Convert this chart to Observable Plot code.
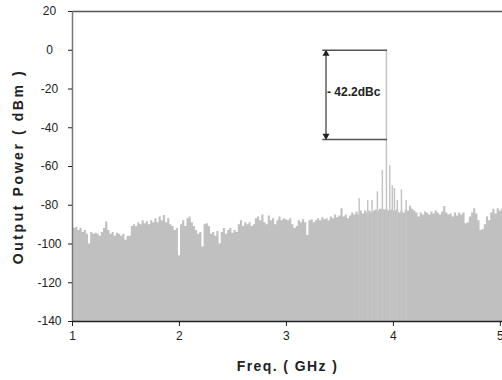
<!DOCTYPE html>
<html><head><meta charset="utf-8">
<script src="https://cdn.jsdelivr.net/npm/d3@7"></script>
<script src="https://cdn.jsdelivr.net/npm/@observablehq/plot@0.6"></script>
<style>
body{margin:0;background:#fff}
#chart svg{display:block}
</style></head><body><div id="chart"></div>
<script>
// Spectrum noise floor: 1.00 .. 5.02 GHz in 0.02 GHz bins (dBm)
const fStart = 1, fStep = 0.02;
const noiseDbm = [
  -91, -92, -91.5, -93, -92,
  -94, -93, -95, -100, -94,
  -95, -94.5, -95, -96, -94,
  -92, -88.7, -93, -95, -94,
  -96, -94.5, -95, -96, -95,
  -98, -96, -96, -91, -90,
  -91, -89, -90, -88, -89.5,
  -88.5, -90, -88, -89, -87,
  -89, -86, -88, -85.3, -89,
  -87, -90, -91, -93, -92,
  -106, -90, -88, -91, -87,
  -86, -89, -91, -93, -95,
  -94, -101.6, -90, -89.5, -91,
  -95, -94, -96, -93.5, -100,
  -94, -92, -95, -93, -92,
  -94.5, -93, -94, -90, -88,
  -91, -89, -90, -89, -91,
  -90, -87, -86, -88, -85,
  -89, -90, -85.5, -88, -87,
  -90, -88, -86, -88, -87,
  -87.5, -88, -87, -90, -92,
  -91, -88, -89, -87.5, -89,
  -95.6, -88, -87.5, -89, -88,
  -87, -88, -86.5, -87.5, -87,
  -88, -86, -87, -85, -86.5,
  -85.5, -81.8, -86, -85, -87,
  -85.5, -84, -85, -83.5, -85,
  -83, -84.5, -83, -84, -83,
  -84, -83, -82.5, -83, -82,
  -82, -82.5, -82, -83, -82.5,
  -83, -83, -82, -84, -83,
  -84, -82.5, -83, -80.5, -82,
  -83, -84, -86, -84, -85,
  -83.5, -84, -85, -83.5, -84.5,
  -83, -84, -85, -83.5, -80.7,
  -84, -85, -84.5, -86, -84,
  -85.5, -84, -85, -84, -89.5,
  -89, -86, -84, -81.8, -84.5,
  -88, -93, -92.5, -90, -86,
  -88, -84, -82, -84.5, -81.8,
  -83, -82
];
// Carrier and spurs (GHz, dBm)
const spurFreq = [3.68, 3.76, 3.80, 3.85, 3.897, 3.935, 3.966, 3.99, 4.01, 4.037, 4.075, 4.12];
const spurDbm  = [-76.7, -77.5, -77.5, -73, -62, 0, -59.6, -70, -71.4, -77.5, -72, -77.5];

const xTicks = [1, 2, 3, 4, 5];
const yTicks = [-140, -120, -100, -80, -60, -40, -20, 0, 20];
const yFloor = -140, yTop = 20;
const carrierLevel = 0, markLevel = -46;
const markX1 = 3.34, markX2 = 3.945, arrowX = 3.37;
const annoText = "- 42.2dBc", annoY = -21.8;
const xTitle = "Freq. ( GHz )", yTitle = "Output Power ( dBm )";

const noise = noiseDbm.map((v, i) => ({f: fStart + i * fStep, v}));
const spurs = spurFreq.map((f, i) => ({f, v: spurDbm[i]}));
const font = "'Liberation Sans Narrow', 'Liberation Sans', Arial, sans-serif";
const boldFont = "'Liberation Sans', Arial, sans-serif";

const chart = Plot.plot({
  width: 502, height: 380,
  marginLeft: 72, marginRight: 0, marginTop: 11, marginBottom: 59,
  style: {fontFamily: font, fontSize: "12px", color: "#222", background: "#fff"},
  x: {domain: [1, 5.02], ticks: xTicks},
  y: {domain: [yFloor, yTop], ticks: yTicks},
  marks: [
    Plot.areaY(noise, {x: "f", y1: yFloor, y2: "v", curve: "step", fill: "#c0c0c0"}),
    Plot.ruleX(spurs, {x: "f", y1: yFloor, y2: "v", stroke: "#c4c4c4", strokeWidth: 1.5}),
    Plot.ruleY([carrierLevel, markLevel], {x1: markX1, x2: markX2, stroke: "#555", strokeWidth: 1.5}),
    Plot.ruleX([arrowX], {y1: carrierLevel - 1, y2: markLevel + 1, stroke: "#333", strokeWidth: 1.2}),
    Plot.dot([carrierLevel - 1.8], {x: arrowX, y: d => d, symbol: "triangle", r: 2.6, fill: "#222"}),
    Plot.dot([markLevel + 1.8], {x: arrowX, y: d => d, symbol: "triangle", r: 2.6, fill: "#222", rotate: 180}),
    Plot.text([annoText], {x: arrowX, y: annoY, text: d => d, textAnchor: "start", dx: 1,
      fontFamily: boldFont, fontWeight: "bold", fontSize: 12, fill: "#222"}),
    Plot.ruleY([yTop], {stroke: "#555", strokeWidth: 1.5}),
    Plot.ruleX([1], {stroke: "#777", strokeWidth: 1.5}),
    Plot.ruleY([yFloor], {stroke: "#222", strokeWidth: 1.5}),
    Plot.axisX({ticks: xTicks, tickFormat: d => String(d), tickSize: 5, tickPadding: 5, label: null, fontSize: 12}),
    Plot.axisY({ticks: yTicks, tickFormat: d => String(d), tickSize: 4, tickPadding: 19, textAnchor: "middle", label: null, fontSize: 12}),
    Plot.text([xTitle], {frameAnchor: "bottom", dy: 49, text: d => d, textAnchor: "middle",
      fontFamily: boldFont, fontWeight: "bold", fontSize: 14, fill: "#222"}),
    Plot.text([yTitle], {frameAnchor: "left", dx: -54, rotate: -90, text: d => d, textAnchor: "middle",
      fontFamily: boldFont, fontWeight: "bold", fontSize: 14, fill: "#222"})
  ]
});
document.getElementById("chart").append(chart);

// Spread the axis titles out to the letter-spaced widths seen in the reference
const titleWidths = new Map([[xTitle, 100], [yTitle, 193]]);
d3.select(chart).selectAll("text").each(function () {
  const t = this.textContent;
  if (!titleWidths.has(t)) return;
  this.style.letterSpacing = "0px";
  const natural = this.getComputedTextLength();
  const gap = Math.max(0, (titleWidths.get(t) - natural) / (t.length - 1));
  this.style.letterSpacing = gap + "px";
});
</script>
</body></html>
